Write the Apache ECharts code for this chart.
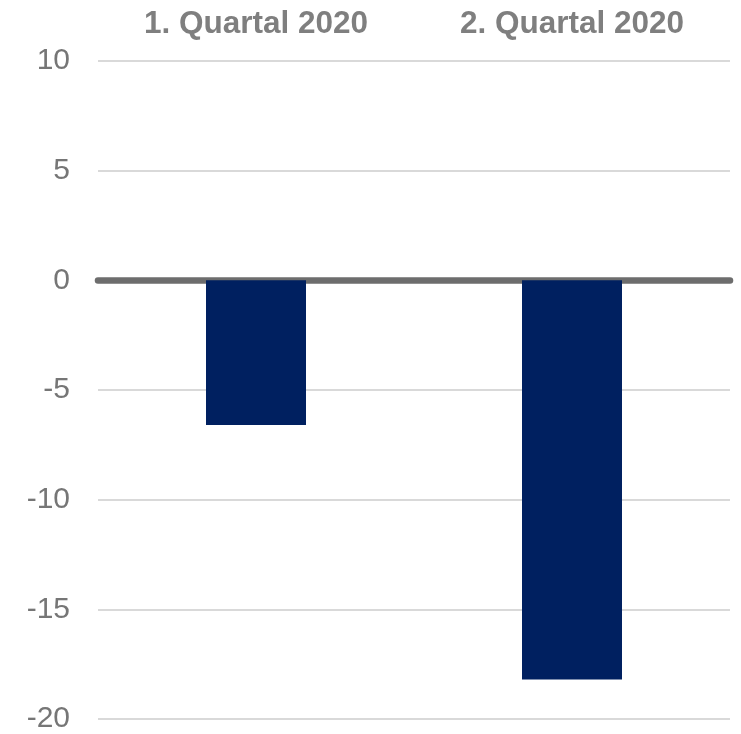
<!DOCTYPE html>
<html>
<head>
<meta charset="utf-8">
<script src="https://cdn.jsdelivr.net/npm/echarts@6/dist/echarts.min.js"></script>
<style>html,body{margin:0;padding:0;background:#fff;}#c{width:741px;height:734px;}</style>
</head>
<body>
<div id="c"></div>
<script>
const categories = ['1. Quartal 2020', '2. Quartal 2020'];
const values = [-6.6, -18.2];
const yMin = -20, yMax = 10, yStep = 5;

const chart = echarts.init(document.getElementById('c'), null, {renderer: 'canvas'});
chart.setOption({
  animation: false,
  grid: {left: 98, right: 11, top: 61, bottom: 15, containLabel: false},
  xAxis: [
    {
      type: 'category', data: categories, position: 'top',
      axisLine: {show: false, onZero: false}, axisTick: {show: false},
      axisLabel: {margin: 21, fontSize: 31.5, fontWeight: 'bold', color: '#7f7f7f', fontFamily: 'Liberation Sans, Arial, sans-serif'}
    },
    {
      type: 'category', data: categories, position: 'bottom', offset: 3.5,
      axisLine: {show: true, onZero: true, lineStyle: {color: '#6d6d6d', width: 6.5}},
      axisTick: {show: false}, axisLabel: {show: false}
    }
  ],
  yAxis: {
    type: 'value', min: yMin, max: yMax, interval: yStep,
    axisLine: {show: false}, axisTick: {show: false},
    splitLine: {lineStyle: {color: '#d9d9d9', width: 2}},
    axisLabel: {margin: 28, fontSize: 30, color: '#767676', fontFamily: 'Liberation Sans, Arial, sans-serif'}
  },
  series: [{
    type: 'bar', xAxisIndex: 0, data: values, barWidth: 100,
    itemStyle: {color: '#002060'}
  }]
});
</script>
</body>
</html>
